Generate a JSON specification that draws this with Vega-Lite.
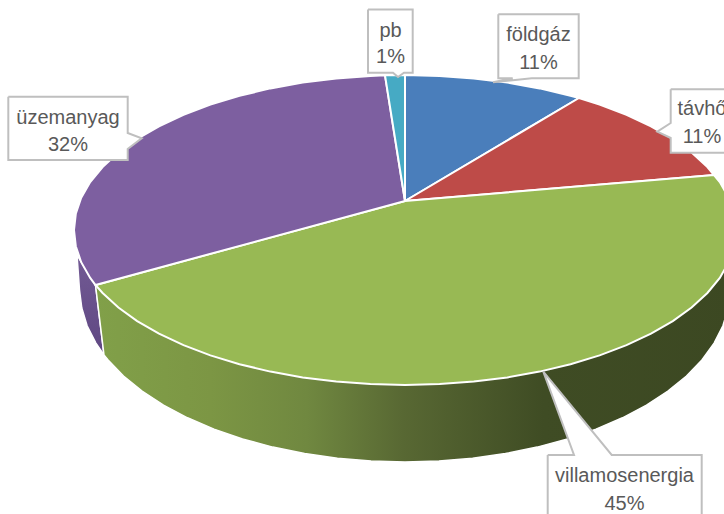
{
"$schema":"https://vega.github.io/schema/vega-lite/v6.json",
"width":724,"height":514,"padding":0,
"autosize":{"type":"fit","contains":"padding"},
"background":"white",
"config":{"view":{"stroke":null}},
"datasets":{
"labels":[
{"name":"földgáz","pct":"11%","cx":538.5,"y1":41,"y2":68.5},
{"name":"távhő","pct":"11%","cx":702,"y1":115,"y2":142.5},
{"name":"villamosenergia","pct":"45%","cx":624.5,"y1":481.5,"y2":510},
{"name":"üzemanyag","pct":"32%","cx":68,"y1":124,"y2":151},
{"name":"pb","pct":"1%","cx":390.5,"y1":36.5,"y2":63}
],
"sides":[
{"part":"green","seq":1,"x":95.5,"y":285},{"part":"green","seq":2,"x":736,"y":230},{"part":"green","seq":3,"x":730,"y":290},{"part":"green","seq":4,"x":728.2,"y":308},{"part":"green","seq":5,"x":722.9,"y":325.8},{"part":"green","seq":6,"x":714.1,"y":343.1},{"part":"green","seq":7,"x":701.9,"y":360},{"part":"green","seq":8,"x":686.5,"y":376},{"part":"green","seq":9,"x":667.9,"y":391.1},{"part":"green","seq":10,"x":646.5,"y":405.1},{"part":"green","seq":11,"x":622.5,"y":417.8},{"part":"green","seq":12,"x":596,"y":429.1},{"part":"green","seq":13,"x":567.5,"y":439},{"part":"green","seq":14,"x":537.2,"y":447.1},{"part":"green","seq":15,"x":505.4,"y":453.6},{"part":"green","seq":16,"x":472.6,"y":458.2},{"part":"green","seq":17,"x":439,"y":461},{"part":"green","seq":18,"x":405,"y":462},{"part":"green","seq":19,"x":371,"y":461},{"part":"green","seq":20,"x":337.4,"y":458.2},{"part":"green","seq":21,"x":304.6,"y":453.6},{"part":"green","seq":22,"x":272.8,"y":447.1},{"part":"green","seq":23,"x":242.5,"y":439},{"part":"green","seq":24,"x":214,"y":429.1},{"part":"green","seq":25,"x":187.5,"y":417.8},{"part":"green","seq":26,"x":163.5,"y":405.1},{"part":"green","seq":27,"x":142.1,"y":391.1},{"part":"green","seq":28,"x":123.5,"y":376},{"part":"green","seq":29,"x":108.1,"y":360},{"part":"green","seq":30,"x":104,"y":355},{"part":"green","seq":31,"x":95.5,"y":285},
{"part":"purple","seq":1,"x":95.5,"y":285},{"part":"purple","seq":2,"x":104,"y":355},{"part":"purple","seq":3,"x":95.9,"y":343.1},{"part":"purple","seq":4,"x":87.1,"y":325.8},{"part":"purple","seq":5,"x":81.8,"y":308},{"part":"purple","seq":6,"x":79.5,"y":290},{"part":"purple","seq":7,"x":77,"y":255},{"part":"purple","seq":8,"x":95.5,"y":285}
],
"faces":[
{"part":"földgáz","seq":1,"x":405,"y":201},{"part":"földgáz","seq":2,"x":405,"y":75},{"part":"földgáz","seq":3,"x":439.6,"y":75.9},{"part":"földgáz","seq":4,"x":473.8,"y":78.4},{"part":"földgáz","seq":5,"x":507.3,"y":82.6},{"part":"földgáz","seq":6,"x":539.6,"y":88.4},{"part":"földgáz","seq":7,"x":570.5,"y":95.8},{"part":"földgáz","seq":8,"x":579,"y":98},{"part":"földgáz","seq":9,"x":405,"y":201},
{"part":"távhő","seq":1,"x":405,"y":201},{"part":"távhő","seq":2,"x":579,"y":98},{"part":"távhő","seq":3,"x":599.6,"y":104.6},{"part":"távhő","seq":4,"x":626.5,"y":114.8},{"part":"távhő","seq":5,"x":651,"y":126.3},{"part":"távhő","seq":6,"x":672.8,"y":138.9},{"part":"távhő","seq":7,"x":691.6,"y":152.5},{"part":"távhő","seq":8,"x":707.4,"y":167},{"part":"távhő","seq":9,"x":714,"y":175},{"part":"távhő","seq":10,"x":405,"y":201},
{"part":"villamosenergia","seq":1,"x":405,"y":201},{"part":"villamosenergia","seq":2,"x":714,"y":175},{"part":"villamosenergia","seq":3,"x":719.8,"y":182.1},{"part":"villamosenergia","seq":4,"x":728.8,"y":197.8},{"part":"villamosenergia","seq":5,"x":734.2,"y":213.8},{"part":"villamosenergia","seq":6,"x":736,"y":230},{"part":"villamosenergia","seq":7,"x":734.2,"y":246.2},{"part":"villamosenergia","seq":8,"x":728.8,"y":262.2},{"part":"villamosenergia","seq":9,"x":719.8,"y":277.9},{"part":"villamosenergia","seq":10,"x":707.4,"y":293},{"part":"villamosenergia","seq":11,"x":691.6,"y":307.5},{"part":"villamosenergia","seq":12,"x":672.8,"y":321.1},{"part":"villamosenergia","seq":13,"x":651,"y":333.7},{"part":"villamosenergia","seq":14,"x":626.5,"y":345.2},{"part":"villamosenergia","seq":15,"x":599.6,"y":355.4},{"part":"villamosenergia","seq":16,"x":570.5,"y":364.2},{"part":"villamosenergia","seq":17,"x":539.6,"y":371.6},{"part":"villamosenergia","seq":18,"x":507.3,"y":377.4},{"part":"villamosenergia","seq":19,"x":473.8,"y":381.6},{"part":"villamosenergia","seq":20,"x":439.6,"y":384.1},{"part":"villamosenergia","seq":21,"x":405,"y":385},{"part":"villamosenergia","seq":22,"x":370.4,"y":384.1},{"part":"villamosenergia","seq":23,"x":336.2,"y":381.6},{"part":"villamosenergia","seq":24,"x":302.7,"y":377.4},{"part":"villamosenergia","seq":25,"x":270.4,"y":371.6},{"part":"villamosenergia","seq":26,"x":239.5,"y":364.2},{"part":"villamosenergia","seq":27,"x":210.4,"y":355.4},{"part":"villamosenergia","seq":28,"x":183.5,"y":345.2},{"part":"villamosenergia","seq":29,"x":159,"y":333.7},{"part":"villamosenergia","seq":30,"x":137.2,"y":321.1},{"part":"villamosenergia","seq":31,"x":118.4,"y":307.5},{"part":"villamosenergia","seq":32,"x":102.6,"y":293},{"part":"villamosenergia","seq":33,"x":95.5,"y":285},{"part":"villamosenergia","seq":34,"x":405,"y":201},
{"part":"üzemanyag","seq":1,"x":405,"y":201},{"part":"üzemanyag","seq":2,"x":95.5,"y":285},{"part":"üzemanyag","seq":3,"x":90.2,"y":277.9},{"part":"üzemanyag","seq":4,"x":81.2,"y":262.2},{"part":"üzemanyag","seq":5,"x":75.8,"y":246.2},{"part":"üzemanyag","seq":6,"x":74,"y":230},{"part":"üzemanyag","seq":7,"x":75.8,"y":213.8},{"part":"üzemanyag","seq":8,"x":81.2,"y":197.8},{"part":"üzemanyag","seq":9,"x":90.2,"y":182.1},{"part":"üzemanyag","seq":10,"x":102.6,"y":167},{"part":"üzemanyag","seq":11,"x":118.4,"y":152.5},{"part":"üzemanyag","seq":12,"x":137.2,"y":138.9},{"part":"üzemanyag","seq":13,"x":159,"y":126.3},{"part":"üzemanyag","seq":14,"x":183.5,"y":114.8},{"part":"üzemanyag","seq":15,"x":210.4,"y":104.6},{"part":"üzemanyag","seq":16,"x":239.5,"y":95.8},{"part":"üzemanyag","seq":17,"x":270.4,"y":88.4},{"part":"üzemanyag","seq":18,"x":302.7,"y":82.6},{"part":"üzemanyag","seq":19,"x":336.2,"y":78.4},{"part":"üzemanyag","seq":20,"x":370.4,"y":75.9},{"part":"üzemanyag","seq":21,"x":385,"y":75.3},{"part":"üzemanyag","seq":22,"x":405,"y":201},
{"part":"pb","seq":1,"x":405,"y":201},{"part":"pb","seq":2,"x":385,"y":75.3},{"part":"pb","seq":3,"x":405,"y":75},{"part":"pb","seq":4,"x":405,"y":201}
],
"callouts":[
{"part":"pb","seq":1,"x":368,"y":9.5},{"part":"pb","seq":2,"x":412.7,"y":9.5},{"part":"pb","seq":3,"x":412.7,"y":72.7},{"part":"pb","seq":4,"x":404,"y":72.7},{"part":"pb","seq":5,"x":398,"y":77},{"part":"pb","seq":6,"x":393,"y":72.7},{"part":"pb","seq":7,"x":368,"y":72.7},{"part":"pb","seq":8,"x":368,"y":9.5},
{"part":"földgáz","seq":1,"x":498.3,"y":14.3},{"part":"földgáz","seq":2,"x":578.7,"y":14.3},{"part":"földgáz","seq":3,"x":578.7,"y":78.3},{"part":"földgáz","seq":4,"x":531.7,"y":78.3},{"part":"földgáz","seq":5,"x":493,"y":82.3},{"part":"földgáz","seq":6,"x":512.7,"y":78.3},{"part":"földgáz","seq":7,"x":498.3,"y":78.3},{"part":"földgáz","seq":8,"x":498.3,"y":14.3},
{"part":"távhő","seq":1,"x":670.7,"y":89.3},{"part":"távhő","seq":2,"x":733,"y":89.3},{"part":"távhő","seq":3,"x":733,"y":152.7},{"part":"távhő","seq":4,"x":670.7,"y":152.7},{"part":"távhő","seq":5,"x":670.7,"y":138},{"part":"távhő","seq":6,"x":657.3,"y":131.7},{"part":"távhő","seq":7,"x":670.7,"y":123},{"part":"távhő","seq":8,"x":670.7,"y":89.3},
{"part":"üzemanyag","seq":1,"x":8.3,"y":96.7},{"part":"üzemanyag","seq":2,"x":127.7,"y":96.7},{"part":"üzemanyag","seq":3,"x":127.7,"y":133},{"part":"üzemanyag","seq":4,"x":141.7,"y":138.3},{"part":"üzemanyag","seq":5,"x":127.7,"y":149},{"part":"üzemanyag","seq":6,"x":127.7,"y":160},{"part":"üzemanyag","seq":7,"x":8.3,"y":160},{"part":"üzemanyag","seq":8,"x":8.3,"y":96.7},
{"part":"villamosenergia","seq":1,"x":547.7,"y":455},{"part":"villamosenergia","seq":2,"x":574,"y":455},{"part":"villamosenergia","seq":3,"x":543.3,"y":371.7},{"part":"villamosenergia","seq":4,"x":611.7,"y":455},{"part":"villamosenergia","seq":5,"x":701.7,"y":455},{"part":"villamosenergia","seq":6,"x":701.7,"y":520},{"part":"villamosenergia","seq":7,"x":547.7,"y":520},{"part":"villamosenergia","seq":8,"x":547.7,"y":455}
]
},
"encoding":{
"x":{"field":"x","type":"quantitative","scale":{"domain":[0,724],"nice":false,"zero":false},"axis":null},
"y":{"field":"y","type":"quantitative","scale":{"domain":[514,0],"nice":false,"zero":false},"axis":null},
"order":{"field":"seq","type":"quantitative"},
"detail":{"field":"part","type":"nominal"}
},
"layer":[
{"data":{"name":"sides"},"transform":[{"filter":"datum.part === 'purple'"}],
 "mark":{"type":"line","clip":true,"strokeWidth":1.5,"stroke":"white","fill":{"gradient":"linear","x1":0,"y1":0,"x2":0,"y2":1,"stops":[{"offset":0,"color":"#725a94"},{"offset":1,"color":"#5f4782"}]}}},
{"data":{"name":"sides"},"transform":[{"filter":"datum.part === 'green'"}],
 "mark":{"type":"line","clip":true,"strokeWidth":1.5,"stroke":"white","fill":{"gradient":"linear","x1":0,"y1":0,"x2":1,"y2":0,"stops":[{"offset":0,"color":"#81a049"},{"offset":0.18,"color":"#7c9644"},{"offset":0.33,"color":"#708840"},{"offset":0.48,"color":"#586833"},{"offset":0.7,"color":"#3f4c24"},{"offset":1,"color":"#3c4822"}]}}},
{"data":{"name":"faces"},
 "mark":{"type":"line","clip":true,"strokeWidth":2,"stroke":"white"},
 "encoding":{"fill":{"field":"part","type":"nominal","legend":null,"scale":{"domain":["földgáz","távhő","villamosenergia","üzemanyag","pb"],"range":["#4a7ebb","#be4b48","#98b954","#7d5fa0","#46aac4"]}}}},
{"data":{"name":"callouts"},
 "mark":{"type":"line","clip":true,"strokeWidth":2,"stroke":"#bfbfbf","fill":"white","strokeJoin":"miter"}},
{"data":{"name":"labels"},
 "mark":{"type":"text","font":"Liberation Sans","fontSize":20,"color":"#595959","align":"center","baseline":"alphabetic","clip":true},
 "encoding":{"x":{"field":"cx","type":"quantitative"},"y":{"field":"y1","type":"quantitative"},"text":{"field":"name"},"order":null,"detail":null}},
{"data":{"name":"labels"},
 "mark":{"type":"text","font":"Liberation Sans","fontSize":20,"color":"#595959","align":"center","baseline":"alphabetic","clip":true},
 "encoding":{"x":{"field":"cx","type":"quantitative"},"y":{"field":"y2","type":"quantitative"},"text":{"field":"pct"},"order":null,"detail":null}}
]
}
